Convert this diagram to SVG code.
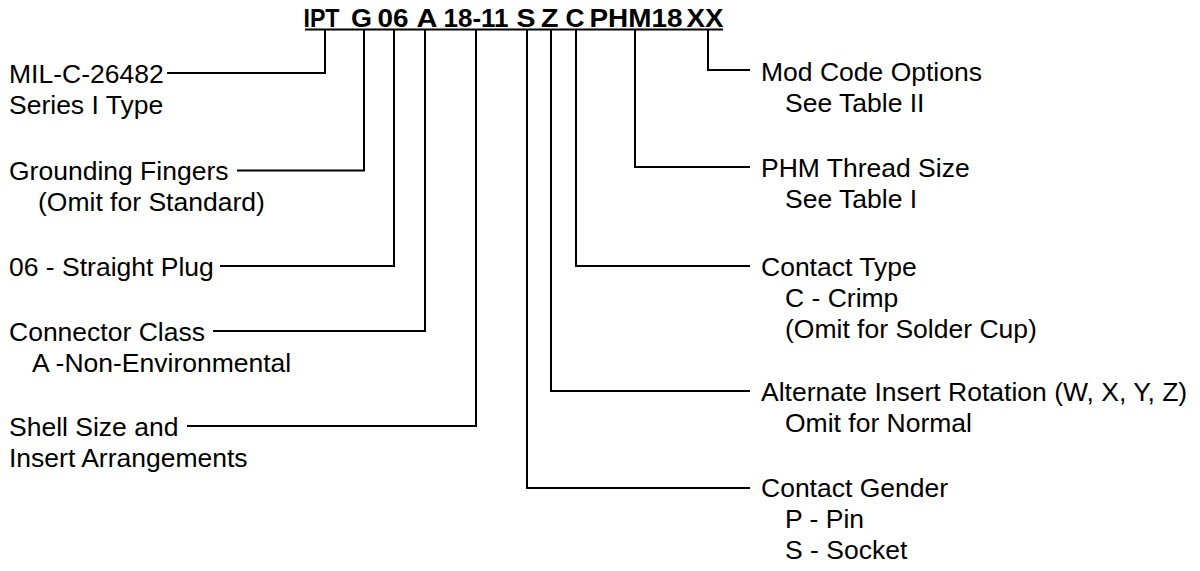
<svg xmlns="http://www.w3.org/2000/svg" width="1200" height="571" viewBox="0 0 1200 571">
<style>
.t{font-family:"Liberation Sans",Arial,sans-serif;font-size:26.5px;fill:#000}
.h{font-family:"Liberation Sans",Arial,sans-serif;font-size:25px;font-weight:bold;fill:#000}
.c{fill:none;stroke:#000;stroke-width:2;stroke-linejoin:miter;stroke-linecap:butt}
</style>
<rect width="1200" height="571" fill="#fff"/>
<g id="title">
<text class="h" x="303.5" y="27" textLength="36" lengthAdjust="spacingAndGlyphs">IPT</text>
<text class="h" x="351" y="27" textLength="21" lengthAdjust="spacingAndGlyphs">G</text>
<text class="h" x="377.5" y="27" textLength="31" lengthAdjust="spacingAndGlyphs">06</text>
<text class="h" x="416.5" y="27" textLength="21" lengthAdjust="spacingAndGlyphs">A</text>
<text class="h" x="443.5" y="27" textLength="65" lengthAdjust="spacingAndGlyphs">18-11</text>
<text class="h" x="516.5" y="27" textLength="19" lengthAdjust="spacingAndGlyphs">S</text>
<text class="h" x="541" y="27" textLength="17.5" lengthAdjust="spacingAndGlyphs">Z</text>
<text class="h" x="565.5" y="27" textLength="19" lengthAdjust="spacingAndGlyphs">C</text>
<text class="h" x="589.5" y="27" textLength="93" lengthAdjust="spacingAndGlyphs">PHM18</text>
<text class="h" x="686.5" y="27" textLength="37" lengthAdjust="spacingAndGlyphs">XX</text>
<line class="c" x1="305" y1="29.5" x2="723" y2="29.5"/>
</g>
<g id="connectors">
<polyline class="c" points="325,30 325,73 167,73"/>
<polyline class="c" points="364,30 364,170.5 237,170.5"/>
<polyline class="c" points="394,30 394,266 220,266"/>
<polyline class="c" points="425,30 425,331 213,331"/>
<polyline class="c" points="476,30 476,426 187,426"/>
<polyline class="c" points="527,30 527,488 750,488"/>
<polyline class="c" points="551,30 551,391 750,391"/>
<polyline class="c" points="576,30 576,266 750,266"/>
<polyline class="c" points="635,30 635,167 750,167"/>
<polyline class="c" points="708,30 708,70 750,70"/>
</g>
<g id="n-type"><text class="t" x="9" y="83">MIL-C-26482</text><text class="t" x="9" y="114">Series I Type</text></g>
<g id="n-grounding"><text class="t" x="9" y="180">Grounding Fingers</text><text class="t" x="38" y="211">(Omit for Standard)</text></g>
<g id="n-plug"><text class="t" x="9" y="275.5">06 - Straight Plug</text></g>
<g id="n-class"><text class="t" x="9" y="340.5">Connector Class</text><text class="t" x="32" y="371.5">A -Non-Environmental</text></g>
<g id="n-shell"><text class="t" x="9" y="435.5">Shell Size and</text><text class="t" x="9" y="466.5">Insert Arrangements</text></g>
<g id="n-mod"><text class="t" x="761" y="81">Mod Code Options</text><text class="t" x="785" y="112">See Table II</text></g>
<g id="n-phm"><text class="t" x="761" y="177">PHM Thread Size</text><text class="t" x="785" y="208">See Table I</text></g>
<g id="n-contact"><text class="t" x="761" y="275.5">Contact Type</text><text class="t" x="785" y="306.5">C - Crimp</text><text class="t" x="785" y="337.5">(Omit for Solder Cup)</text></g>
<g id="n-rotation"><text class="t" x="761" y="401">Alternate Insert Rotation (W, X, Y, Z)</text><text class="t" x="785" y="432">Omit for Normal</text></g>
<g id="n-gender"><text class="t" x="761" y="497">Contact Gender</text><text class="t" x="785" y="528">P - Pin</text><text class="t" x="785" y="559">S - Socket</text></g>
</svg>
